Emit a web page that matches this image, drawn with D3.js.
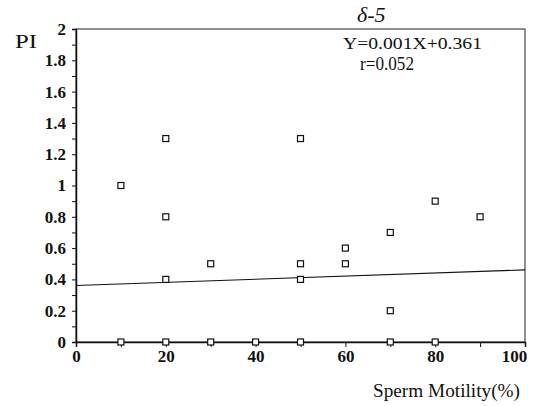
<!DOCTYPE html>
<html><head><meta charset="utf-8">
<script src="https://cdn.jsdelivr.net/npm/d3@7"></script>
<style>
body{margin:0;background:#fff;}
</style></head>
<body><svg id="c" width="534" height="406"></svg>
<script>
const motility = [10,10,20,20,20,20,30,30,40,50,50,50,50,60,60,70,70,70,80,80,90];
const piValues = [1.0,0,1.3,0.8,0.4,0,0.5,0,0,1.3,0.5,0.4,0,0.6,0.5,0.7,0.2,0,0.9,0,0.8];
const xTicks = [0,20,40,60,80,100];
const yTicks = [0,0.2,0.4,0.6,0.8,1,1.2,1.4,1.6,1.8,2];
const slope = 0.001, intercept = 0.361;
const eqLines = ["Y=0.001X+0.361","r=0.052"];

const FONT = "'Liberation Serif','Times New Roman','DejaVu Serif',serif";
const svg = d3.select("#c");
const L=76,R=525,T=29,B=342;
const x = d3.scaleLinear().domain([0,100]).range([L,R]);
const y = d3.scaleLinear().domain([0,2]).range([B,T]);

// box
svg.append("rect").attr("x",L).attr("y",T).attr("width",R-L).attr("height",B-T)
  .attr("fill","none").attr("stroke","#222").attr("stroke-width",1);

const fmtY = d => { const r = Math.round(d*10); return yTicks.some(t=>Math.round(t*10)===r) ? d3.format("~g")(r/10) : ""; };

// y axis
const ya = svg.append("g").attr("transform",`translate(${L},0)`)
  .call(d3.axisLeft(y).tickValues(d3.range(0,21).map(i=>i/10)).tickSize(4).tickFormat(fmtY));
ya.attr("font-family",FONT);
ya.select(".domain").attr("stroke","#111").attr("stroke-width",1.5);
ya.selectAll(".tick line").attr("stroke","#111");
ya.selectAll("text").style("font-family",FONT).style("font-size","17px").style("font-weight","bold").attr("x",-10).attr("fill","#111");

// x axis
const xa = svg.append("g").attr("transform",`translate(0,${B})`)
  .call(d3.axisBottom(x).tickValues(d3.range(0,11).map(i=>i*10)).tickSize(5)
    .tickFormat(d=> xTicks.includes(d) ? d : ""));
xa.attr("font-family",FONT);
xa.select(".domain").attr("stroke","#111").attr("stroke-width",1.5);
xa.selectAll(".tick line").attr("stroke","#111");
xa.selectAll("text").style("font-family",FONT).style("font-size","17px").style("font-weight","bold").attr("y",8).attr("fill","#111")
  .attr("dx",d=> d===100 ? -11 : 0);

// regression line
svg.append("line").attr("x1",x(0)).attr("y1",y(intercept)).attr("x2",x(100)).attr("y2",y(intercept+slope*100))
  .attr("stroke","#111").attr("stroke-width",1.1);

// points
svg.append("g").selectAll("rect").data(motility.map((m,i)=>[m,piValues[i]])).join("rect")
  .attr("x",d=>x(d[0])-3).attr("y",d=>y(d[1])-3).attr("width",6).attr("height",6)
  .attr("fill","#fff").attr("stroke","#111").attr("stroke-width",1.2);

// labels
function label(txt,x0,y0,size,len){
  const t = svg.append("text").attr("x",x0).attr("y",y0).text(txt)
    .style("font-family",FONT).style("font-size",size+"px").attr("fill","#111");
  if(len) t.attr("textLength",len).attr("lengthAdjust","spacingAndGlyphs");
  return t;
}
label("PI",15,48,19,22);
label(eqLines[0],343,49,17,139);
label(eqLines[1],360,70,18,54);
label("Sperm Motility(%)",373,397,18,147);
label("δ-5",357,22,22).style("font-style","italic");
</script></body></html>
